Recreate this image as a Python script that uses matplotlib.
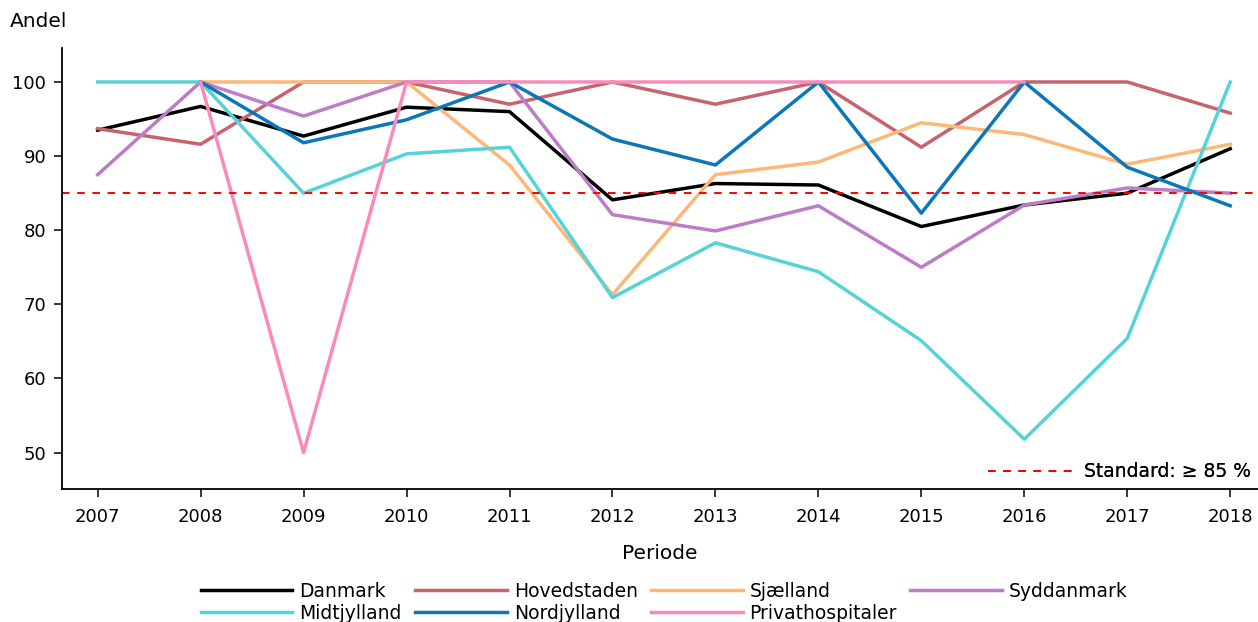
import numpy as np
import matplotlib
matplotlib.use("Agg")
import matplotlib.pyplot as plt

years = list(range(2007, 2019))
nan = np.nan
danmark = [93.5, 96.7, 92.7, 96.6, 96.0, 84.1, 86.3, 86.1, 80.5, 83.4, 85.0, 91.0]
hovedstaden = [93.7, 91.6, 100, 100, 97.0, 100, 97.0, 100, 91.2, 100, 100, 95.8]
sjaelland = [nan, 100, 100, 100, 88.8, 71.3, 87.5, 89.2, 94.5, 92.9, 88.9, 91.6]
syddanmark = [87.5, 100, 95.4, 100, 100, 82.1, 79.9, 83.3, 75.0, 83.4, 85.7, 85.0]
midtjylland = [100, 100, 85.0, 90.3, 91.2, 70.9, 78.3, 74.4, 65.1, 51.8, 65.4, 100]
nordjylland = [nan, 100, 91.8, 94.9, 100, 92.3, 88.8, 100, 82.3, 100, 88.5, 83.3]
privat = [nan, 100, 50, 100, 100, 100, 100, 100, 100, 100, nan, nan]
standard = 85

series = [
    ("Danmark", danmark, "#000000"),
    ("Hovedstaden", hovedstaden, "#c6636e"),
    ("Sjælland", sjaelland, "#fdb878"),
    ("Syddanmark", syddanmark, "#bd7cc6"),
    ("Midtjylland", midtjylland, "#55d3d6"),
    ("Nordjylland", nordjylland, "#0a78b8"),
    ("Privathospitaler", privat, "#fb8ab8"),
]

plt.rcParams['font.family'] = ['DejaVu Sans']
fig = plt.figure(figsize=(12.58, 6.22), dpi=100)
ax = fig.add_axes([0.049, 0.214, 0.951, 0.709])

handles = {}
for name, vals, col in series:
    h, = ax.plot(years, vals, color=col, lw=2.5, label=name)
    handles[name] = h

std, = ax.plot([2006.65, 2018.27], [standard, standard], color="red", lw=1.4,
               ls=(0, (3.9, 3.9)), label="Standard: ≥ 85 %")

ax.set_xlim(2006.65, 2018.27)
ax.set_ylim(45.1, 104.6)
ax.set_xticks(years)
ax.set_yticks([50, 60, 70, 80, 90, 100])
ax.tick_params(labelsize=13, length=6, width=1.1, pad=5)
ax.tick_params(axis="x", pad=8)
for s in ["top", "right"]:
    ax.spines[s].set_visible(False)
ax.spines["left"].set_linewidth(1.3)
ax.spines["bottom"].set_linewidth(1.3)

ax.set_xlabel("Periode", fontsize=14.5, labelpad=13)
fig.text(0.008, 0.965, "Andel", fontsize=14.5, ha="left", va="center")

leg1 = ax.legend(handles=[std], loc="lower right", frameon=False, fontsize=13.5,
                 handlelength=4.6, handletextpad=0.5, borderaxespad=0.0,
                 bbox_to_anchor=(1.0, 0.0))
ax.add_artist(leg1)

order = ["Danmark", "Midtjylland", "Hovedstaden", "Nordjylland", "Sjælland",
         "Privathospitaler", "Syddanmark"]
fig.legend(handles=[handles[n] for n in order], labels=order, ncol=4,
           loc="lower center", bbox_to_anchor=(0.528, -0.028), frameon=False,
           fontsize=13.5, handlelength=4.9, columnspacing=0.7, labelspacing=0.15,
           handletextpad=0.37)

fig.savefig("out.png", dpi=100)
